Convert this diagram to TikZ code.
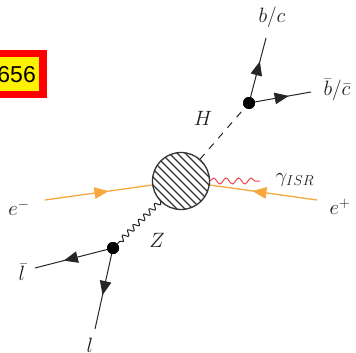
\documentclass[tikz,border=0pt]{standalone}
\usepackage{fontspec}
\newfontfamily\boxfont{Liberation Sans}
\usetikzlibrary{decorations.pathmorphing,decorations.markings,arrows.meta}
\definecolor{eorange}{RGB}{246,168,62}
\definecolor{gred}{RGB}{240,72,82}
\definecolor{lbl}{RGB}{30,30,30}
\tikzset{
  arrowmid/.style={postaction={decorate},decoration={markings,
     mark=at position #1 with {\arrow{Triangle[length=14pt,width=11.5pt]}}}},
  fermion/.style={line width=1pt,draw=black!85},
  elec/.style={line width=1.3pt,draw=eorange,color=eorange},
  vtx/.style={circle,fill=black,inner sep=0pt,minimum size=12pt},
  lab/.style={text=lbl,font=\huge,inner sep=0pt},
  zwave/.style={decorate,decoration={snake,amplitude=2.6pt,segment length=7.5pt},line width=1pt,draw=black!85},
  gwave/.style={decorate,decoration={snake,amplitude=3pt,segment length=12.5pt},line width=1pt,draw=gred},
  higgs/.style={line width=1pt,draw=black!85,dash pattern=on 7pt off 7pt}
}
\begin{document}
\begin{tikzpicture}[x=1pt,y=-1pt]
\useasboundingbox (0,0) rectangle (356,353);
\fill[white] (0,0) rectangle (356,353);
\begin{scope}
\clip (0,0) rectangle (356,353);
% label box
\fill[red] (-20,50) rectangle (47,98);
\fill[yellow] (-20,57) rectangle (39,91);
\node[anchor=east,inner sep=0pt,font=\boxfont\fontsize{23}{25}\selectfont] (boxtxt) at (36,75) {656};

% coordinates
\node[circle,minimum size=57pt,inner sep=0pt] (blob) at (181,181) {};
\coordinate (em) at (45,200);
\coordinate (ep) at (317,200);
\coordinate (gend) at (260,181);
\node[vtx] (vz) at (113,248) {};
\node[vtx] (vh) at (249,103) {};
\coordinate (lbar) at (35,268);
\coordinate (lend) at (95,329);
\coordinate (bc) at (266,38);
\coordinate (bbar) at (311,92);

% electrons
\draw[elec,arrowmid=0.59] (em) -- (blob);
\draw[elec,arrowmid=0.6] (ep) -- (blob);
% photon
\draw[gwave] (blob.east |- gend) -- (gend);
% Z
\draw[zwave] (blob) -- (vz);
% H
\draw[higgs] (blob) -- (vh);
% leptons
\draw[fermion,arrowmid=0.63] (vz.center) -- (lbar);
\draw[fermion,arrowmid=0.58] (vz.center) -- (lend);
% quarks
\draw[fermion,arrowmid=0.64] (vh.center) -- (bc);
\draw[fermion,arrowmid=0.64] (vh.center) -- (bbar);
\node[vtx] at (vz) {};
\node[vtx] at (vh) {};

% blob
\fill[white] (blob.center) circle (28.5);
\begin{scope}
\clip (blob.center) circle (28.5);
\foreach \c in {-48,-40,...,48}
  \draw[line width=1.3pt,black!80] (181+\c-40,181-40) -- (181+\c+40,181+40);
\end{scope}
\draw[line width=1.3pt,black!80] (blob.center) circle (28.5);

% labels
\node[lab] (lem) at (19,208) {$e^-$};
\node[lab] (lep) at (340,207) {$e^+$};
\node[lab] (lg) at (295,180) {$\gamma_{ISR}$};
\node[lab] (lH) at (203,118) {$H$};
\node[lab] (lZ) at (157,240) {$Z$};
\node[lab] (lbc) at (272,17) {$b/c$};
\node[lab] (lbbar) at (337,90) {$\bar b/\bar c$};
\node[lab] (llbar) at (22,272) {$\bar l$};
\node[lab] (ll) at (90,345) {$l$};
\end{scope}
\end{tikzpicture}
\end{document}
